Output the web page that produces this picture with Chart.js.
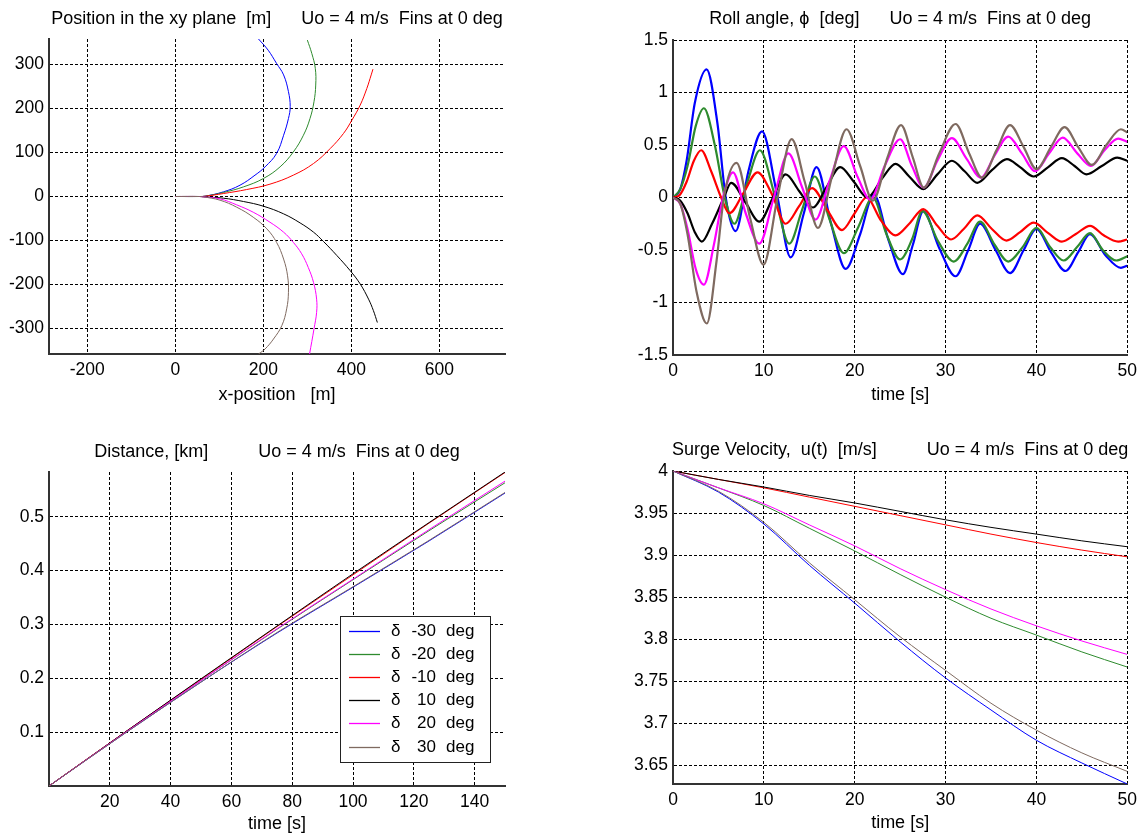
<!DOCTYPE html>
<html>
<head>
<meta charset="utf-8">
<title>Fins at 0 deg</title>
<style>
  body { margin: 0; background: #fff; }
  #wrap { position: relative; width: 1143px; height: 837px; background: #fff; }
  #wrap canvas { position: absolute; }
</style>
</head>
<body>
<div id="wrap">
  <canvas id="xy" width="571" height="418" style="left:0;top:0"></canvas>
  <canvas id="roll" width="571" height="418" style="left:572px;top:0"></canvas>
  <canvas id="dist" width="571" height="419" style="left:0;top:418px"></canvas>
  <canvas id="surge" width="571" height="419" style="left:572px;top:418px"></canvas>
</div>
<script src="https://cdn.jsdelivr.net/npm/chart.js"></script>
<script>
// fin angles of the six runs, in plot order
const deltaDeg = [-30, -20, -10, 10, 20, 30];
const lineColors = ['#0000ff', '#2e8b2e', '#ff0000', '#000000', '#ff00ff', '#7f6a60'];

// position in the xy plane [m], pairs of [x, y]
const pathM30 = [[0,0],[55,0],[67.5,0.7],[109,10.5],[147,25.7],[181,48.4],[204,67.3],[230,97.7],[246,139],[257,177],[261,204],[257,238],[246,276],[230,302],[211,332],[189,357.5]];
const pathM20 = [[0,0],[55,0],[67.5,0.7],[109,9],[155,21.9],[200,40.8],[238,67.3],[268,101],[291,139],[306,177],[315,215],[319,253],[318,291],[310,325],[300,355]];
const pathM10 = [[0,0],[55,0],[67.5,0.5],[109,6.7],[162,15.8],[215,28],[268,48.4],[314,74.9],[352,109],[382,143],[401,173],[420,207.5],[435,245],[445,276],[449,289]];
const pathP10 = [[0,0],[55,0],[64,-0.8],[109,-3.8],[155,-11.4],[200,-22],[246,-39.4],[283.5,-60],[314,-81],[336.5,-102],[367,-134],[397,-168],[420,-198.5],[439,-233],[450,-259],[459,-286]];
const pathP20 = [[0,0],[55,0],[64,-0.8],[101.6,-5.4],[139.5,-19],[177,-35.7],[215,-58.4],[246,-81],[268,-104],[287,-130],[302,-161],[314,-195],[321,-233],[321,-263],[315,-301],[305,-357.5]];
const pathP30 = [[0,0],[55,0],[64,-0.8],[101.6,-8.4],[139.5,-24.3],[177,-47],[208,-73.5],[230,-104],[246,-142],[255,-180],[257,-217.5],[253,-255],[242,-293],[223,-323.5],[204,-346],[189,-357.5]];

// roll angle [deg], pairs of [t, phi]
const rollM30 = [[0,0],[0.8,0.08],[1.5,0.35],[2.4,0.9],[3.7,1.22],[4.9,0.7],[5.8,0],[6.9,-0.32],[8.3,0.25],[9.8,0.63],[11.4,0.05],[12.95,-0.57],[14.4,-0.15],[15.8,0.29],[17.4,-0.25],[19,-0.68],[20.6,-0.35],[22.1,0.03],[23.7,-0.4],[25.3,-0.73],[26.4,-0.45],[27.55,-0.13],[29.3,-0.48],[31.1,-0.75],[32.5,-0.5],[33.8,-0.25],[35.5,-0.5],[37.1,-0.72],[38.6,-0.5],[40,-0.3],[41.6,-0.52],[43.2,-0.7],[44.6,-0.52],[45.9,-0.35],[47.6,-0.55],[49.3,-0.67],[50,-0.65]];
const rollM20 = [[0,0],[0.8,0.08],[1.6,0.3],[2.5,0.68],[3.4,0.85],[4.6,0.5],[5.7,0],[6.75,-0.25],[8.2,0.15],[9.56,0.45],[11.2,0.02],[12.8,-0.44],[14.2,-0.12],[15.6,0.2],[17.2,-0.2],[18.8,-0.53],[20.4,-0.28],[22,0],[23.5,-0.35],[25,-0.59],[26.3,-0.4],[27.45,-0.13],[29.2,-0.42],[30.9,-0.61],[32.4,-0.44],[33.8,-0.23],[35.4,-0.45],[36.9,-0.61],[38.5,-0.47],[40,-0.29],[41.5,-0.47],[43,-0.6],[44.5,-0.47],[45.9,-0.34],[47.3,-0.5],[48.8,-0.6],[50,-0.56]];
const rollM10 = [[0,0],[0.7,0.02],[1.5,0.15],[2.3,0.35],[3.1,0.45],[4.2,0.25],[5.3,0],[6.2,-0.15],[7.8,0.05],[9.3,0.24],[10.9,0.03],[12.4,-0.25],[13.9,-0.08],[15.3,0.09],[17,-0.12],[18.6,-0.31],[20,-0.15],[21.3,0],[22.9,-0.22],[24.5,-0.36],[26,-0.25],[27.55,-0.11],[29.1,-0.27],[30.6,-0.4],[32,-0.3],[33.5,-0.17],[35.1,-0.3],[36.7,-0.41],[38.2,-0.33],[39.7,-0.24],[41.3,-0.34],[42.8,-0.42],[44.3,-0.35],[45.9,-0.27],[47.4,-0.36],[49,-0.42],[50,-0.4]];
const rollP10 = [[0,0],[0.8,-0.03],[1.6,-0.15],[2.4,-0.33],[3.17,-0.42],[4.3,-0.25],[5.6,0],[6.4,0.14],[8,-0.05],[9.5,-0.23],[11,0],[12.4,0.22],[13.9,0.06],[15.4,-0.095],[16.9,0.1],[18.4,0.29],[19.9,0.15],[21.4,0],[23,0.18],[24.5,0.32],[26,0.2],[27.55,0.08],[29.1,0.22],[30.7,0.35],[32.1,0.25],[33.5,0.14],[35.1,0.26],[36.75,0.365],[38.2,0.29],[39.7,0.2],[41.3,0.29],[42.8,0.375],[44.2,0.3],[45.5,0.22],[47.2,0.3],[48.9,0.38],[50,0.35]];
const rollP20 = [[0,0],[0.8,-0.06],[1.6,-0.3],[2.5,-0.68],[3.4,-0.83],[4.5,-0.45],[5.5,0],[6.6,0.24],[8,-0.15],[9.5,-0.44],[11.1,0],[12.7,0.42],[14.2,0.1],[15.7,-0.21],[17.2,0.15],[18.8,0.49],[20.3,0.2],[21.7,-0.02],[23.3,0.3],[25,0.555],[26.3,0.3],[27.6,0.095],[29.1,0.35],[30.7,0.565],[32.3,0.37],[33.9,0.19],[35.4,0.4],[36.9,0.58],[38.4,0.42],[39.85,0.25],[41.4,0.42],[42.9,0.57],[44.5,0.42],[46,0.3],[47.5,0.45],[49,0.56],[50,0.53]];
const rollP30 = [[0,0],[0.8,-0.06],[1.6,-0.35],[2.6,-0.9],[3.72,-1.2],[4.8,-0.6],[5.6,0],[7,0.33],[8.5,-0.2],[9.96,-0.64],[11.5,0],[13.06,0.556],[14.5,0.15],[15.95,-0.29],[17.5,0.2],[19.1,0.65],[20.6,0.3],[22,-0.03],[23.6,0.38],[25.1,0.69],[26.4,0.38],[27.6,0.095],[29.3,0.42],[31.1,0.7],[32.6,0.42],[34,0.19],[35.6,0.45],[37.1,0.69],[38.6,0.48],[40,0.27],[41.6,0.48],[43.1,0.67],[44.6,0.48],[46.1,0.31],[47.7,0.5],[49.3,0.65],[50,0.62]];

// distance [km] against time [s]
const distTime = [0, 25, 50, 75, 100, 125, 150];
const distM30 = [0, 0.098, 0.193, 0.284, 0.369, 0.455, 0.544];
const distM20 = [0, 0.099, 0.196, 0.291, 0.383, 0.474, 0.563];
const distM10 = [0, 0.1, 0.198, 0.296, 0.392, 0.488, 0.582];
const distP10 = [0, 0.1, 0.199, 0.297, 0.394, 0.489, 0.583];
const distP20 = [0, 0.099, 0.196, 0.292, 0.384, 0.476, 0.566];
const distP30 = [0, 0.098, 0.193, 0.285, 0.370, 0.456, 0.545];

// surge velocity u(t) [m/s]
const surgeTime = [0, 5, 10, 15, 20, 25, 30, 35, 40, 45, 50];
const surgeM30 = [4, 3.975, 3.937, 3.888, 3.843, 3.797, 3.754, 3.716, 3.68, 3.653, 3.628];
const surgeM20 = [4, 3.98, 3.959, 3.932, 3.905, 3.877, 3.85, 3.825, 3.805, 3.785, 3.767];
const surgeM10 = [4, 3.99, 3.98, 3.969, 3.958, 3.947, 3.936, 3.925, 3.915, 3.906, 3.898];
const surgeP10 = [4, 3.99, 3.981, 3.971, 3.962, 3.952, 3.942, 3.933, 3.925, 3.917, 3.91];
const surgeP20 = [4, 3.98, 3.961, 3.936, 3.911, 3.884, 3.859, 3.836, 3.816, 3.798, 3.782];
const surgeP30 = [4, 3.976, 3.939, 3.891, 3.847, 3.803, 3.763, 3.724, 3.692, 3.665, 3.643];

// tick values
const xyXTicks = [-200, 0, 200, 400, 600];
const xyYTicks = [-300, -200, -100, 0, 100, 200, 300];
const rollXTicks = [0, 10, 20, 30, 40, 50];
const rollYTicks = [-1.5, -1, -0.5, 0, 0.5, 1, 1.5];
const distXTicks = [20, 40, 60, 80, 100, 120, 140];
const distYTicks = [0.1, 0.2, 0.3, 0.4, 0.5];
const surgeXTicks = [0, 10, 20, 30, 40, 50];
const surgeYTicks = [3.65, 3.7, 3.75, 3.8, 3.85, 3.9, 3.95, 4];

const FONT = '"Liberation Sans", Arial, sans-serif';
Chart.defaults.font.family = FONT;
Chart.defaults.color = '#000';

// title centred over the plot area, like the matlab axes title
const panelTitle = {
  id: 'panelTitle',
  afterDraw(chart, args, opts) {
    const ctx = chart.ctx, ca = chart.chartArea;
    ctx.save();
    ctx.font = '18px ' + FONT;
    ctx.fillStyle = '#000';
    ctx.textAlign = 'center';
    ctx.textBaseline = 'middle';
    ctx.fillText(opts.text, (ca.left + ca.right) / 2, opts.y);
    ctx.restore();
  }
};

// boxed legend inside the plot (chart.js legend has no frame)
const boxLegend = {
  id: 'boxLegend',
  afterDatasetsDraw(chart, args, opts) {
    const ctx = chart.ctx;
    const b = opts.box;
    ctx.save();
    ctx.setLineDash([]);
    ctx.fillStyle = '#fff';
    ctx.fillRect(b.left, b.top, b.width, b.height);
    ctx.strokeStyle = '#222';
    ctx.lineWidth = 1;
    ctx.strokeRect(b.left + 0.5, b.top + 0.5, b.width, b.height);
    ctx.font = '17px ' + FONT;
    ctx.textBaseline = 'middle';
    deltaDeg.forEach((d, i) => {
      const y = Math.round(b.top + 15 + i * 23.1) + 0.5;
      ctx.strokeStyle = lineColors[i];
      ctx.lineWidth = 1.3;
      ctx.beginPath();
      ctx.moveTo(b.left + 9, y);
      ctx.lineTo(b.left + 40, y);
      ctx.stroke();
      ctx.fillStyle = '#000';
      ctx.textAlign = 'left';
      ctx.fillText('δ', b.left + 51, y);
      ctx.textAlign = 'right';
      ctx.fillText(String(d), b.left + 96, y);
      ctx.textAlign = 'left';
      ctx.fillText('deg', b.left + 106, y);
    });
    ctx.restore();
  }
};

function axis(a, isX, size) {
  return {
    type: 'linear',
    min: a.min,
    max: a.max,
    afterBuildTicks: s => { s.ticks = a.ticks.map(v => ({ value: v })); },
    afterFit: s => { if (isX) s.height = size; else s.width = size; },
    ticks: {
      font: { size: 17.5 },
      color: '#000',
      padding: isX ? 6 : 5,
      maxRotation: 0,
      autoSkip: false,
      callback: v => String(Math.round(v * 1000) / 1000)
    },
    grid: { color: '#000', lineWidth: 1, drawTicks: false },
    border: { color: '#333', width: 2, dash: [3, 2] },
    title: a.title
      ? { display: true, text: a.title, font: { size: 18 }, color: '#000', padding: { top: 0, bottom: a.titlePad } }
      : { display: false }
  };
}

function series(i, pts, width, smooth) {
  return {
    label: 'δ ' + deltaDeg[i] + ' deg',
    data: pts,
    showLine: true,
    borderColor: lineColors[i],
    backgroundColor: lineColors[i],
    borderWidth: width,
    pointRadius: 0,
    fill: false,
    tension: smooth === 'bezier' ? 0.4 : 0,
    cubicInterpolationMode: smooth === 'monotone' ? 'monotone' : 'default',
    order: 5 - i
  };
}

const pairs = arr => arr.map(p => ({ x: p[0], y: p[1] }));
const zipT = (t, v) => t.map((x, k) => ({ x: x, y: v[k] }));

function panel(id, o) {
  const c = document.getElementById(id);
  return new Chart(c, {
    type: 'scatter',
    data: { datasets: o.datasets },
    options: {
      responsive: false,
      animation: false,
      layout: { padding: { left: 0, top: o.area.top, right: c.width - o.area.right, bottom: 0 } },
      plugins: {
        legend: { display: false },
        tooltip: { enabled: false },
        panelTitle: { text: o.title, y: o.titleY },
        boxLegend: o.legend || false
      },
      scales: {
        x: axis(o.x, true, c.height - o.area.bottom),
        y: axis(o.y, false, o.area.left)
      }
    },
    plugins: [panelTitle, boxLegend]
  });
}

panel('xy', {
  title: 'Position in the xy plane  [m]      Uo = 4 m/s  Fins at 0 deg',
  titleY: 19,
  area: { left: 49, right: 505, top: 39, bottom: 354 },
  x: { min: -287, max: 749, ticks: xyXTicks, title: 'x-position   [m]', titlePad: 12 },
  y: { min: -357.5, max: 357.5, ticks: xyYTicks },
  datasets: [pathM30, pathM20, pathM10, pathP10, pathP20, pathP30].map((p, i) => series(i, pairs(p), 1, 'bezier'))
});

panel('roll', {
  title: 'Roll angle, ϕ  [deg]      Uo = 4 m/s  Fins at 0 deg',
  titleY: 19,
  area: { left: 101, right: 558, top: 40, bottom: 355 },
  x: { min: 0, max: 50, ticks: rollXTicks, title: 'time [s]', titlePad: 12 },
  y: { min: -1.5, max: 1.5, ticks: rollYTicks },
  datasets: [rollM30, rollM20, rollM10, rollP10, rollP20, rollP30].map((p, i) => series(i, pairs(p), 2.2, 'monotone'))
});

panel('dist', {
  title: 'Distance, [km]          Uo = 4 m/s  Fins at 0 deg',
  titleY: 34,
  area: { left: 49, right: 505, top: 54, bottom: 368 },
  x: { min: 0, max: 150, ticks: distXTicks, title: 'time [s]', titlePad: 2 },
  y: { min: 0, max: 0.583, ticks: distYTicks },
  datasets: [distM30, distM20, distM10, distP10, distP20, distP30].map((v, i) => series(i, zipT(distTime, v), 1, 'monotone')),
  legend: { box: { left: 340, top: 198, width: 150, height: 146 } }
});

panel('surge', {
  title: 'Surge Velocity,  u(t)  [m/s]          Uo = 4 m/s  Fins at 0 deg',
  titleY: 32,
  area: { left: 101, right: 558, top: 53, bottom: 366 },
  x: { min: 0, max: 50, ticks: surgeXTicks, title: 'time [s]', titlePad: 3 },
  y: { min: 3.628, max: 4, ticks: surgeYTicks },
  datasets: [surgeM30, surgeM20, surgeM10, surgeP10, surgeP20, surgeP30].map((v, i) => series(i, zipT(surgeTime, v), 1, 'monotone'))
});
</script>
</body>
</html>
